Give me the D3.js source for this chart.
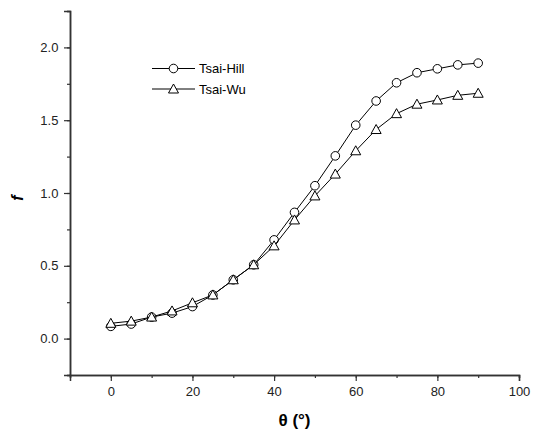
<!DOCTYPE html>
<html>
<head>
<meta charset="utf-8">
<script src="https://cdn.jsdelivr.net/npm/d3@7"></script>
<style>
  body { margin: 0; background: #fff; }
  text { font-family: "Liberation Sans", Arial, sans-serif; }
</style>
</head>
<body>
<div id="viz"></div>
<script>
let angles = [0, 5, 10, 15, 20, 25, 30, 35, 40, 45, 50, 55, 60, 65, 70, 75, 80, 85, 90];
let tsaiHill = [0.084, 0.10, 0.148, 0.175, 0.22, 0.30, 0.404, 0.507, 0.678, 0.867, 1.05, 1.255, 1.466, 1.632, 1.757, 1.826, 1.853, 1.88, 1.892];
let tsaiWu = [0.105, 0.12, 0.148, 0.19, 0.246, 0.30, 0.404, 0.507, 0.637, 0.815, 0.98, 1.13, 1.29, 1.436, 1.545, 1.61, 1.639, 1.671, 1.685];
let xTicks = [0, 20, 40, 60, 80, 100];
let yTicks = [0.0, 0.5, 1.0, 1.5, 2.0];

let width = 538, height = 431;
let margin = { top: 11, right: 19, bottom: 56, left: 70 };

let svg = d3.select('#viz').append('svg')
  .attr('width', width)
  .attr('height', height);

let x = d3.scaleLinear().domain([-10, 100]).range([margin.left, width - margin.right]);
let y = d3.scaleLinear().domain([-0.25, 2.25]).range([height - margin.bottom, margin.top]);

let axisColor = '#333';

// x axis: minor ticks every 10, labels every 20
let xAxis = svg.append('g')
  .attr('transform', `translate(0,${y(-0.25)})`)
  .call(d3.axisBottom(x).tickValues(d3.range(-10, 101, 10)).tickSize(3).tickFormat(''));
xAxis.append('g')
  .call(d3.axisBottom(x).tickValues(xTicks).tickSize(6).tickFormat(d3.format('d')));
xAxis.selectAll('path.domain').attr('stroke', axisColor).attr('stroke-width', 1.5);
xAxis.selectAll('line').attr('stroke', axisColor).attr('stroke-width', 1.2);
xAxis.selectAll('text').attr('font-size', 13).attr('fill', '#222').attr('dy', '0.9em');

let yAxis = svg.append('g')
  .attr('transform', `translate(${x(-10)},0)`)
  .call(d3.axisLeft(y).tickValues(d3.range(-0.25, 2.26, 0.25)).tickSize(3).tickFormat(''));
yAxis.append('g')
  .call(d3.axisLeft(y).tickValues(yTicks).tickSize(6).tickFormat(d3.format('.1f')));
yAxis.selectAll('path.domain').attr('stroke', axisColor).attr('stroke-width', 1.5);
yAxis.selectAll('line').attr('stroke', axisColor).attr('stroke-width', 1.2);
yAxis.selectAll('text').attr('font-size', 13).attr('fill', '#222').attr('dx', '-0.2em');

svg.append('text')
  .text('θ (°)')
  .attr('x', (x(-10) + x(100)) / 2)
  .attr('y', 426)
  .attr('text-anchor', 'middle')
  .style('font-size', '17px')
  .style('font-weight', 'bold');

svg.append('text')
  .text('f')
  .attr('transform', `translate(23,${(y(-0.25) + y(2.25)) / 2 + 5}) rotate(-90)`)
  .attr('text-anchor', 'middle')
  .style('font-size', '16px')
  .style('font-weight', 'bold')
  .style('font-style', 'italic');

let line = d3.line()
  .x(d => x(d[0]))
  .y(d => y(d[1]));

let triangle = 'M0,-5L5,4L-5,4Z';

function drawSeries(values, shape) {
  let pts = angles.map((a, i) => [a, values[i]]);
  svg.append('path')
    .datum(pts)
    .attr('d', line)
    .attr('fill', 'none')
    .attr('stroke', '#000')
    .attr('stroke-width', 1);
  let g = svg.append('g');
  pts.forEach(p => {
    if (shape === 'circle') {
      g.append('circle')
        .attr('cx', x(p[0]))
        .attr('cy', y(p[1]))
        .attr('r', 4.3)
        .attr('fill', '#fff')
        .attr('stroke', '#000');
    } else {
      g.append('path')
        .attr('d', triangle)
        .attr('transform', `translate(${x(p[0])},${y(p[1])})`)
        .attr('fill', '#fff')
        .attr('stroke', '#000');
    }
  });
}

drawSeries(tsaiHill, 'circle');
drawSeries(tsaiWu, 'triangle');

// legend
let legend = [
  { name: 'Tsai-Hill', shape: 'circle', y: 68.5 },
  { name: 'Tsai-Wu', shape: 'triangle', y: 89 }
];
legend.forEach(l => {
  svg.append('line')
    .attr('x1', 152).attr('x2', 195)
    .attr('y1', l.y).attr('y2', l.y)
    .attr('stroke', '#000');
  if (l.shape === 'circle') {
    svg.append('circle')
      .attr('cx', 173.5).attr('cy', l.y).attr('r', 4.3)
      .attr('fill', '#fff').attr('stroke', '#000');
  } else {
    svg.append('path')
      .attr('d', triangle)
      .attr('transform', `translate(173.5,${l.y})`)
      .attr('fill', '#fff').attr('stroke', '#000');
  }
  svg.append('text')
    .text(l.name)
    .attr('x', 199)
    .attr('y', l.y + 4.5)
    .style('font-size', '13px');
});
</script>
</body>
</html>
